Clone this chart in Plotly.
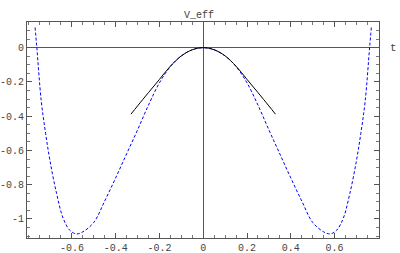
import plotly.graph_objects as go

# Blue dashed curve (V_eff)
t_blue = [-0.768, -0.76, -0.74, -0.72, -0.70, -0.67, -0.64, -0.61, -0.58, -0.55, -0.50, -0.45,
          -0.40, -0.35, -0.30, -0.25, -0.20, -0.15, -0.10, -0.05, 0.0,
          0.05, 0.10, 0.15, 0.20, 0.25, 0.30, 0.35, 0.40, 0.45, 0.50, 0.55, 0.58,
          0.61, 0.64, 0.67, 0.70, 0.72, 0.74, 0.76, 0.768]
v_blue = [0.118, 0.0, -0.31, -0.50, -0.66, -0.85, -0.995, -1.065, -1.087, -1.075, -1.02, -0.895,
          -0.76, -0.62, -0.48, -0.335, -0.205, -0.110, -0.048, -0.012, 0.0,
          -0.012, -0.048, -0.110, -0.205, -0.335, -0.48, -0.62, -0.76, -0.895, -1.02, -1.075, -1.087,
          -1.065, -0.995, -0.85, -0.66, -0.50, -0.31, 0.0, 0.118]

# Black solid curve
t_black = [-0.33, -0.30, -0.25, -0.20, -0.15, -0.10, -0.05, 0.0, 0.05, 0.10, 0.15, 0.20, 0.25, 0.30, 0.33]
v_black = [-0.388, -0.340, -0.262, -0.185, -0.108, -0.048, -0.012, 0.0,
           -0.012, -0.048, -0.108, -0.185, -0.262, -0.340, -0.388]

x_ticks = [-0.6, -0.4, -0.2, 0, 0.2, 0.4, 0.6]
x_labels = ["-0.6", "-0.4", "-0.2", "0", "0.2", "0.4", "0.6"]
y_ticks = [0, -0.2, -0.4, -0.6, -0.8, -1]
y_labels = ["0", "-0.2", "-0.4", "-0.6", "-0.8", "-1"]

FONT = "Liberation Mono, Courier New, monospace"

fig = go.Figure()
fig.add_trace(go.Scatter(x=t_blue, y=v_blue, mode="lines", line_shape="spline",
                         line=dict(color="rgb(0,0,255)", width=1, dash="3px,2px")))
fig.add_trace(go.Scatter(x=t_black, y=v_black, mode="lines", line_shape="spline",
                         line=dict(color="black", width=1)))

axis_common = dict(
    showgrid=False, showline=True, linecolor="#555", linewidth=1, mirror="allticks",
    ticks="inside", ticklen=5, tickcolor="#555", tickwidth=1, automargin=False,
    zeroline=True, zerolinecolor="#555", zerolinewidth=1,
    tickfont=dict(family=FONT, size=10, color="#444"),
)

fig.update_xaxes(range=[-0.805, 0.803], tickvals=x_ticks, ticktext=x_labels,
                 minor=dict(dtick=0.05, tick0=0, ticks="inside", ticklen=3, tickcolor="#777", showgrid=False),
                 **axis_common)
fig.update_yaxes(range=[-1.111, 0.150], tickvals=y_ticks, ticktext=y_labels,
                 minor=dict(dtick=0.05, tick0=0, ticks="inside", ticklen=3, tickcolor="#777", showgrid=False),
                 **axis_common)

fig.add_annotation(text="V_eff", xref="paper", yref="paper", x=0.49, y=1.0, yshift=14,
                   showarrow=False, font=dict(family=FONT, size=10, color="#444"))
fig.add_annotation(text="t", xref="paper", yref="y", x=1.0, y=0, xanchor="left", xshift=9,
                   showarrow=False, font=dict(family=FONT, size=11, color="#444"))

fig.update_layout(width=400, height=253, showlegend=False,
                  margin=dict(l=27, r=21, t=22, b=15),
                  paper_bgcolor="white", plot_bgcolor="white")

fig.write_html("out.html", config={"displayModeBar": False},
               post_script="document.body.style.margin='0';document.body.style.overflow='hidden';")
